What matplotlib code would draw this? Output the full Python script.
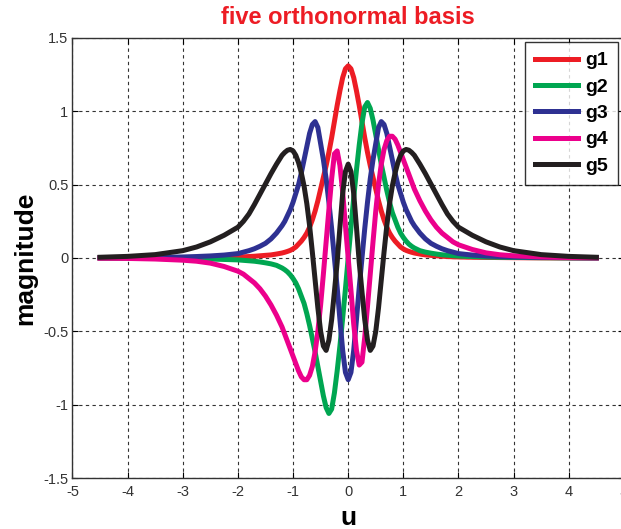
import matplotlib
matplotlib.use("Agg")
import matplotlib.pyplot as plt

plt.rcParams['font.family'] = ['Liberation Sans', 'DejaVu Sans']

# sample positions along u (denser in the middle where the curves wiggle)
u = [-4.5, -4.0, -3.5, -3.0, -2.75, -2.5, -2.25, -2.0, -1.9, -1.8, -1.7, -1.6, -1.5, -1.4,
     -1.3, -1.2, -1.15, -1.1, -1.05, -1.0, -0.95, -0.9, -0.85, -0.8, -0.75, -0.7, -0.65,
     -0.6, -0.55, -0.5, -0.45, -0.4, -0.35, -0.3, -0.25, -0.2, -0.15, -0.1, -0.05, 0.0,
     0.05, 0.1, 0.15, 0.2, 0.25, 0.3, 0.35, 0.4, 0.45, 0.5, 0.55, 0.6, 0.65, 0.7, 0.75,
     0.8, 0.85, 0.9, 0.95, 1.0, 1.05, 1.1, 1.15, 1.2, 1.3, 1.4, 1.5, 1.6, 1.7, 1.8, 1.9,
     2.0, 2.25, 2.5, 2.75, 3.0, 3.5, 4.0, 4.5]

g1 = [0.0, 0.0, 0.001, 0.002, 0.003, 0.004, 0.005, 0.007, 0.008, 0.01, 0.012, 0.015, 0.018,
      0.021, 0.027, 0.034, 0.039, 0.045, 0.052, 0.062, 0.075, 0.095, 0.115, 0.14, 0.17, 0.21,
      0.26, 0.32, 0.39, 0.47, 0.55, 0.63, 0.72, 0.82, 0.93, 1.04, 1.14, 1.23, 1.29, 1.31,
      1.29, 1.23, 1.14, 1.04, 0.93, 0.82, 0.72, 0.63, 0.55, 0.47, 0.39, 0.32, 0.26, 0.21,
      0.17, 0.14, 0.115, 0.095, 0.075, 0.062, 0.052, 0.045, 0.039, 0.034, 0.027, 0.021,
      0.018, 0.015, 0.012, 0.01, 0.008, 0.007, 0.005, 0.004, 0.003, 0.002, 0.001, 0.0, 0.0]

g2 = [0.0, -0.001, -0.002, -0.004, -0.005, -0.007, -0.01, -0.013, -0.016, -0.019, -0.022,
      -0.027, -0.033, -0.04, -0.05, -0.068, -0.08, -0.095, -0.115, -0.14, -0.17, -0.21,
      -0.26, -0.31, -0.38, -0.46, -0.55, -0.64, -0.74, -0.84, -0.94, -1.02, -1.06, -1.03,
      -0.92, -0.77, -0.6, -0.41, -0.21, 0.0, 0.21, 0.41, 0.6, 0.77, 0.92, 1.03, 1.06, 1.02,
      0.94, 0.84, 0.74, 0.64, 0.55, 0.46, 0.38, 0.31, 0.26, 0.21, 0.17, 0.14, 0.115, 0.095,
      0.08, 0.068, 0.05, 0.04, 0.033, 0.027, 0.022, 0.019, 0.016, 0.013, 0.01, 0.007, 0.005,
      0.004, 0.002, 0.001, 0.0]

g3 = [0.001, 0.002, 0.004, 0.007, 0.01, 0.014, 0.02, 0.03, 0.04, 0.05, 0.063, 0.08, 0.1,
      0.13, 0.17, 0.22, 0.25, 0.29, 0.33, 0.38, 0.44, 0.5, 0.58, 0.67, 0.76, 0.85, 0.91, 0.93,
      0.89, 0.78, 0.67, 0.54, 0.38, 0.2, 0.0, -0.2, -0.42, -0.63, -0.78, -0.83, -0.78, -0.63,
      -0.42, -0.2, 0.0, 0.2, 0.38, 0.54, 0.67, 0.78, 0.89, 0.93, 0.91, 0.85, 0.76, 0.67,
      0.58, 0.5, 0.44, 0.38, 0.33, 0.29, 0.25, 0.22, 0.17, 0.13, 0.1, 0.08, 0.063, 0.05,
      0.04, 0.03, 0.02, 0.014, 0.01, 0.007, 0.004, 0.002, 0.001]

g4 = [-0.001, -0.003, -0.007, -0.015, -0.022, -0.035, -0.058, -0.09, -0.11, -0.14, -0.17,
      -0.21, -0.26, -0.32, -0.39, -0.47, -0.52, -0.57, -0.62, -0.67, -0.72, -0.77, -0.81,
      -0.83, -0.83, -0.8, -0.74, -0.64, -0.5, -0.32, -0.11, 0.11, 0.33, 0.54, 0.71, 0.73,
      0.63, 0.45, 0.22, 0.0, -0.22, -0.45, -0.63, -0.73, -0.71, -0.54, -0.33, -0.11, 0.11,
      0.32, 0.5, 0.64, 0.74, 0.8, 0.83, 0.83, 0.81, 0.77, 0.72, 0.67, 0.62, 0.57, 0.52, 0.47,
      0.39, 0.32, 0.26, 0.21, 0.17, 0.14, 0.11, 0.09, 0.058, 0.035, 0.022, 0.015, 0.007,
      0.003, 0.001]

g5 = [0.005, 0.011, 0.023, 0.05, 0.075, 0.11, 0.155, 0.21, 0.25, 0.3, 0.365, 0.435, 0.505,
      0.575, 0.64, 0.70, 0.72, 0.735, 0.74, 0.73, 0.7, 0.65, 0.58, 0.49, 0.37, 0.22, 0.04,
      -0.15, -0.34, -0.5, -0.6, -0.63, -0.56, -0.42, -0.23, -0.03, 0.21, 0.44, 0.59, 0.64,
      0.59, 0.44, 0.21, -0.03, -0.23, -0.42, -0.56, -0.63, -0.6, -0.5, -0.34, -0.15, 0.04,
      0.22, 0.37, 0.49, 0.58, 0.65, 0.7, 0.73, 0.74, 0.735, 0.72, 0.70, 0.64, 0.575, 0.505,
      0.435, 0.365, 0.3, 0.25, 0.21, 0.155, 0.11, 0.075, 0.05, 0.023, 0.011, 0.005]

names = ['g1', 'g2', 'g3', 'g4', 'g5']
colors = ['#ED1C24', '#00A651', '#2E3192', '#EC008C', '#231F20']

xticks = [-5, -4, -3, -2, -1, 0, 1, 2, 3, 4, 5]
yticks = [-1.5, -1, -0.5, 0, 0.5, 1, 1.5]
ytick_labels = ['-1.5', '-1', '-0.5', '0', '0.5', '1', '1.5']

series = [g1, g2, g3, g4, g5]
assert all(len(s) == len(u) for s in series)

fig = plt.figure(figsize=(6.21, 5.29), dpi=100)
# the original is cropped just past the right axis edge
ax = fig.add_axes([0.1167, 0.0964, 0.888, 0.8318])

for vals, name, c in zip(series, names, colors):
    ax.plot(u, vals, color=c, linewidth=3.6, label=name)

ax.set_xlim(-5, 5)
ax.set_ylim(-1.5, 1.5)
ax.set_xticks(xticks)
ax.set_xticklabels([str(t) for t in xticks])
ax.set_yticks(yticks)
ax.set_yticklabels(ytick_labels)
ax.tick_params(direction='in', top=True, right=True, length=4, width=0.8,
               labelsize=10.5, labelcolor='#333333')
ax.tick_params(axis='y', pad=3)
ax.tick_params(axis='x', pad=5)
ax.set_axisbelow(True)
ax.grid(True, linestyle=(0, (3, 3)), color='#333333', linewidth=0.8)
for sp in ax.spines.values():
    sp.set_color('#333333')
    sp.set_linewidth(1.0)

ax.set_title('five orthonormal basis', color='#ED1C24', fontweight='bold', fontsize=17, pad=10)
ax.set_xlabel('u', fontweight='bold', fontsize=19, labelpad=5)
ax.set_ylabel('magnitude', fontweight='bold', fontsize=19, labelpad=4)

leg = ax.legend(loc='upper right', bbox_to_anchor=(618 / 621, 1 - 42 / 529),
                bbox_transform=fig.transFigure, borderaxespad=0,
                prop={'weight': 'bold', 'size': 14}, frameon=True, fancybox=False,
                edgecolor='black', handlelength=2.2, labelspacing=0.45,
                handletextpad=0.4, borderpad=0.5)
leg.get_frame().set_linewidth(1.0)

fig.savefig('out.png', dpi=100)
